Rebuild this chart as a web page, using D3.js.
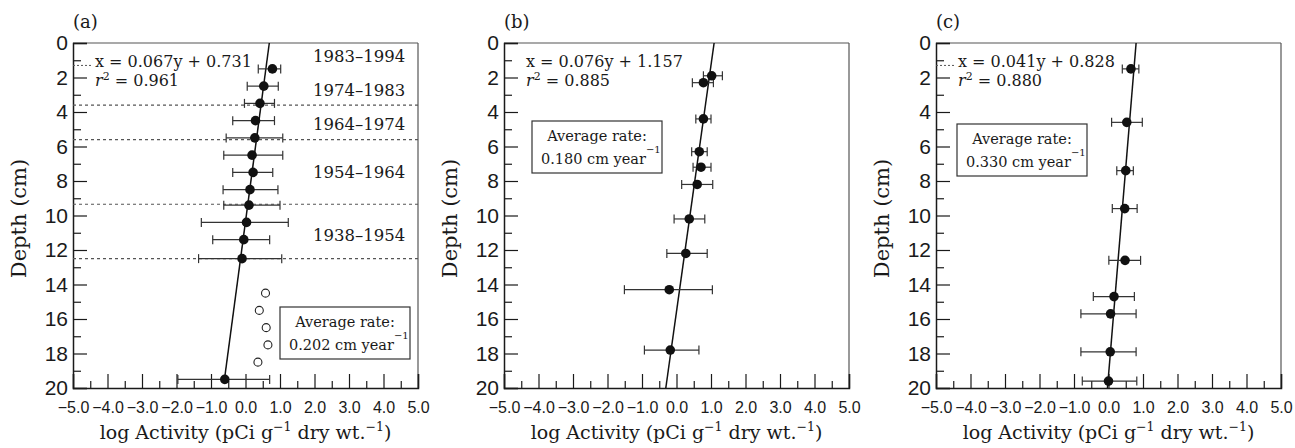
<!DOCTYPE html>
<html>
<head>
<meta charset="utf-8">
<script src="https://cdn.jsdelivr.net/npm/d3@7"></script>
<style>
  body { margin: 0; background: #fff; }
  svg { display: block; font-family: "DejaVu Serif", serif; }
</style>
</head>
<body>
<div id="chart"></div>
<script>
// Tick values
const depthTicks = [0, 2, 4, 6, 8, 10, 12, 14, 16, 18, 20];
const depthMinor = [1, 3, 5, 7, 9, 11, 13, 15, 17, 19];
const activityTicks = [-5, -4, -3, -2, -1, 0, 1, 2, 3, 4, 5];
const activityMinor = [-4.5, -3.5, -2.5, -1.5, -0.5, 0.5, 1.5, 2.5, 3.5, 4.5];

// Panel texts
const panelLabels = ["(a)", "(b)", "(c)"];
const equations = ["x = 0.067y + 0.731", "x = 0.076y + 1.157", "x = 0.041y + 0.828"];
const r2Values = ["0.961", "0.885", "0.880"];
const rates = ["0.202", "0.180", "0.330"];

// Panel (a)
const depthA = [1.5, 2.5, 3.5, 4.5, 5.5, 6.5, 7.5, 8.5, 9.4, 10.4, 11.4, 12.5, 19.5];
const actA   = [0.78, 0.53, 0.42, 0.29, 0.27, 0.19, 0.22, 0.13, 0.10, 0.03, -0.05, -0.10, -0.60];
const loA    = [0.37, 0.05, -0.03, -0.37, -0.56, -0.63, -0.37, -0.65, -0.63, -1.28, -0.95, -1.36, -1.96];
const hiA    = [1.02, 0.95, 0.84, 0.84, 1.08, 1.08, 0.79, 0.94, 1.00, 1.24, 0.70, 1.05, 0.70];
const openDepthA = [14.5, 15.5, 16.5, 17.5, 18.5];
const openActA   = [0.58, 0.40, 0.60, 0.65, 0.36];
const fitA = [[0, 0.69], [19.5, -0.61]];
const boundaryA = [3.6, 5.6, 9.35, 12.5];
const periodA = ["1983–1994", "1974–1983", "1964–1974", "1954–1964", "1938–1954"];
const periodDepthA = [0.75, 2.72, 4.7, 7.48, 11.13];

// Panel (b)
const depthB = [1.9, 2.3, 4.4, 6.3, 7.2, 8.2, 10.2, 12.2, 14.3, 17.8];
const actB   = [1.02, 0.78, 0.78, 0.66, 0.71, 0.60, 0.37, 0.27, -0.21, -0.18];
const loB    = [0.78, 0.46, 0.56, 0.44, 0.48, 0.15, -0.07, -0.28, -1.51, -0.93];
const hiB    = [1.33, 1.07, 1.00, 0.89, 1.00, 1.05, 0.82, 0.89, 1.04, 0.65];
const fitB = [[0, 1.09], [20, -0.31]];

// Panel (c)
const depthC = [1.5, 4.6, 7.4, 9.6, 12.6, 14.7, 15.7, 17.9, 19.6];
const actC   = [0.65, 0.53, 0.50, 0.47, 0.48, 0.16, 0.06, 0.05, 0.00];
const loC    = [0.40, 0.09, 0.24, 0.11, 0.01, -0.44, -0.80, -0.80, -0.76];
const hiC    = [0.88, 0.98, 0.72, 0.83, 0.93, 0.75, 0.80, 0.80, 0.82];
const fitC = [[0, 0.80], [20, -0.03]];

const stubDepth = [1.3, null, 1.3];

const width = 1295, height = 448;
const plotTop = 43, size = 345;
const lefts = [73, 504, 936];
const ink = "#1a1a1a";

const svg = d3.select("#chart").append("svg")
    .attr("width", width)
    .attr("height", height);

const panels = [
    { depth: depthA, act: actA, lo: loA, hi: hiA, fit: fitA, box: { x: 207, y: 264 } },
    { depth: depthB, act: actB, lo: loB, hi: hiB, fit: fitB, box: { x: 28, y: 78 } },
    { depth: depthC, act: actC, lo: loC, hi: hiC, fit: fitC, box: { x: 21, y: 81 } }
];

panels.forEach((p, i) => {
    const g = svg.append("g").attr("transform", `translate(${lefts[i]},${plotTop})`);

    const x = d3.scaleLinear().domain([-5, 5]).range([0, size]);
    const y = d3.scaleLinear().domain([0, 20]).range([0, size]);

    // frame top / right
    g.append("line").attr("x1", 0).attr("x2", size).attr("y1", 0).attr("y2", 0)
        .attr("stroke", "#555").attr("stroke-width", 1.2);
    g.append("line").attr("x1", size).attr("x2", size).attr("y1", 0).attr("y2", size)
        .attr("stroke", "#555").attr("stroke-width", 1.2);

    // x axis
    const xAxis = g.append("g")
        .attr("transform", `translate(0,${size})`)
        .call(d3.axisBottom(x).tickValues(activityTicks).tickSize(-14).tickPadding(14)
            .tickFormat(d => d3.format(".1f")(d).replace("-", "−")));
    g.append("g")
        .attr("transform", `translate(0,${size})`)
        .call(d3.axisBottom(x).tickValues(activityMinor).tickSize(-7).tickFormat(""))
        .call(a => a.select(".domain").remove());
    xAxis.selectAll("text").style("font-size", "16px").attr("fill", ink);

    // y axis
    const yAxis = g.append("g")
        .call(d3.axisLeft(y).tickValues(depthTicks).tickSize(-14).tickPadding(5));
    g.append("g")
        .call(d3.axisLeft(y).tickValues(depthMinor).tickSize(-8).tickFormat(""))
        .call(a => a.select(".domain").remove());
    yAxis.selectAll("text").style("font-size", "21px").attr("fill", ink);

    g.selectAll(".domain").attr("stroke", ink).attr("stroke-width", 1.5);
    g.selectAll(".tick line").attr("stroke", ink).attr("stroke-width", 1.2);

    // dashed stub near top
    if (stubDepth[i] !== null) {
        g.append("line")
            .attr("x1", 0).attr("x2", 20)
            .attr("y1", y(stubDepth[i])).attr("y2", y(stubDepth[i]))
            .attr("stroke", "#555").attr("stroke-width", 1)
            .attr("stroke-dasharray", "2,2");
    }

    // panel (a) date boundaries and periods
    if (i === 0) {
        g.selectAll(".bound").data(boundaryA).enter().append("line")
            .attr("x1", 0).attr("x2", size)
            .attr("y1", d => y(d)).attr("y2", d => y(d))
            .attr("stroke", "#555").attr("stroke-width", 1.1)
            .attr("stroke-dasharray", "3,3");
        g.selectAll(".period").data(periodA).enter().append("text")
            .attr("x", 240)
            .attr("y", (d, j) => y(periodDepthA[j]))
            .attr("dy", "0.35em")
            .style("font-size", "16.5px")
            .attr("fill", ink)
            .text(d => d);
    }

    // equation
    const eq = g.append("text").attr("x", 22).attr("y", 24)
        .style("font-size", "16px").attr("fill", ink);
    eq.text(equations[i]);
    const r2 = g.append("text").attr("x", 22).attr("y", 43)
        .style("font-size", "16px").attr("fill", ink);
    r2.append("tspan").style("font-style", "italic").text("r");
    r2.append("tspan").attr("dy", -6).style("font-size", "11px").text("2");
    r2.append("tspan").attr("dy", 6).text(" = " + r2Values[i]);

    // regression line
    g.append("line")
        .attr("x1", x(p.fit[0][1])).attr("y1", y(p.fit[0][0]))
        .attr("x2", x(p.fit[1][1])).attr("y2", y(p.fit[1][0]))
        .attr("stroke", "#111").attr("stroke-width", 1.5);

    // error bars
    const pts = p.depth.map((d, j) => ({ d, v: p.act[j], lo: p.lo[j], hi: p.hi[j] }));
    const eb = g.selectAll(".eb").data(pts).enter().append("g").attr("stroke", "#333").attr("stroke-width", 1.2);
    eb.append("line").attr("x1", d => x(d.lo)).attr("x2", d => x(d.hi))
        .attr("y1", d => y(d.d)).attr("y2", d => y(d.d));
    eb.append("line").attr("x1", d => x(d.lo)).attr("x2", d => x(d.lo))
        .attr("y1", d => y(d.d) - 4.5).attr("y2", d => y(d.d) + 4.5);
    eb.append("line").attr("x1", d => x(d.hi)).attr("x2", d => x(d.hi))
        .attr("y1", d => y(d.d) - 4.5).attr("y2", d => y(d.d) + 4.5);

    g.selectAll(".pt").data(pts).enter().append("circle")
        .attr("cx", d => x(d.v)).attr("cy", d => y(d.d))
        .attr("r", 4.8).attr("fill", "#111");

    if (i === 0) {
        g.selectAll(".open").data(openDepthA).enter().append("circle")
            .attr("cx", (d, j) => x(openActA[j])).attr("cy", d => y(d))
            .attr("r", 4).attr("fill", "#fff")
            .attr("stroke", "#222").attr("stroke-width", 1.1);
    }

    // rate box
    const bx = p.box.x, by = p.box.y;
    g.append("rect").attr("x", bx).attr("y", by).attr("width", 130).attr("height", 52)
        .attr("fill", "#fff").attr("stroke", "#333").attr("stroke-width", 1.2);
    g.append("text").attr("x", bx + 65).attr("y", by + 19.5)
        .attr("text-anchor", "middle").style("font-size", "14.5px").attr("fill", ink)
        .text("Average rate:");
    const rt = g.append("text").attr("x", bx + 9).attr("y", by + 43)
        .style("font-size", "14.5px").attr("fill", ink);
    rt.append("tspan").text(rates[i] + " cm year");
    rt.append("tspan").attr("dy", -11).style("font-size", "10px").text("−1");

    // panel label
    g.append("text").attr("x", 0).attr("y", -15)
        .style("font-size", "18px").attr("fill", ink).text(panelLabels[i]);

    // axis titles
    const xt = g.append("text").attr("x", size / 2).attr("y", 396)
        .attr("text-anchor", "middle").style("font-size", "19px").attr("fill", ink);
    xt.append("tspan").text("log Activity (pCi g");
    xt.append("tspan").attr("dy", -8).style("font-size", "12.5px").text("−1");
    xt.append("tspan").attr("dy", 8).text(" dry wt.");
    xt.append("tspan").attr("dy", -8).style("font-size", "12.5px").text("−1");
    xt.append("tspan").attr("dy", 8).text(")");

    g.append("text")
        .attr("transform", `translate(-47,${size / 2 + 3}) rotate(-90)`)
        .attr("text-anchor", "middle").style("font-size", "21px").attr("fill", ink)
        .text("Depth (cm)");
});
</script>
</body>
</html>
